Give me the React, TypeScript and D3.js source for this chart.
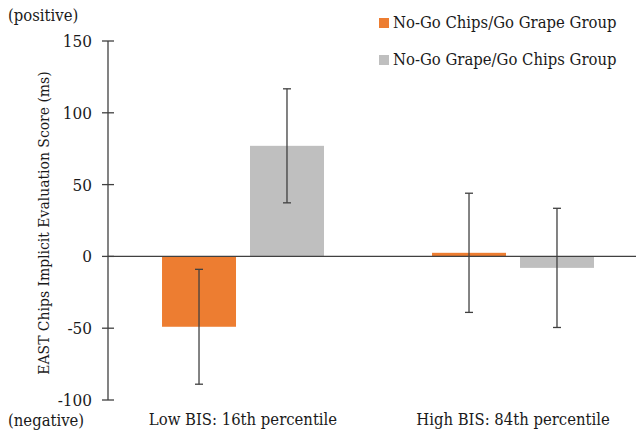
import React from 'react';
import * as d3 from 'd3';

const categories = ['Low BIS: 16th percentile', 'High BIS: 84th percentile'];
const groups = ['No-Go Chips/Go Grape Group', 'No-Go Grape/Go Chips Group'];
const chipsGrapeMeans = [-49, 2.5];
const chipsGrapeErrors = [40, 41.5];
const grapeChipsMeans = [77, -8];
const grapeChipsErrors = [39.7, 41.5];
const yTicks = [-100, -50, 0, 50, 100, 150];
const colors = ['#ED7D31', '#BFBFBF'];

const W = 638;
const H = 436;
const FONT = "'DejaVu Serif Condensed', 'DejaVu Serif', serif";
const txt = {fontFamily: FONT, fontStretch: 'condensed', fontSize: 16.5, fill: '#1a1a1a'};

export default function App() {
  const y = d3.scaleLinear().domain([-100, 150]).range([400, 41]);
  const x0 = d3.scaleBand().domain(categories).range([108, 648]);
  const x1 = d3.scaleBand().domain(groups).range([0, x0.bandwidth()])
    .paddingInner(0.159).paddingOuter(0.614);

  const series = [
    {name: groups[0], means: chipsGrapeMeans, errs: chipsGrapeErrors, color: colors[0]},
    {name: groups[1], means: grapeChipsMeans, errs: grapeChipsErrors, color: colors[1]},
  ];

  return (
    <svg width={W} height={H} style={{position: 'absolute', left: 0, top: 0, background: '#fff'}}>
      {/* bars */}
      {series.map(s => categories.map((c, i) => {
        const v = s.means[i];
        const bx = x0(c)! + x1(s.name)!;
        return (
          <rect key={s.name + c} x={bx} width={x1.bandwidth()}
            y={Math.min(y(v), y(0))} height={Math.abs(y(v) - y(0))} fill={s.color} />
        );
      }))}

      {/* zero line */}
      <line x1={108} x2={636} y1={y(0)} y2={y(0)} stroke="#404040" strokeWidth={1.2} />

      {/* axis */}
      <line x1={108} x2={108} y1={y(150)} y2={y(-100)} stroke="#404040" strokeWidth={1.3} />
      {yTicks.map(t => (
        <g key={t}>
          <line x1={102} x2={114} y1={y(t)} y2={y(t)} stroke="#404040" strokeWidth={1.3} />
          <text x={92} y={y(t)} dy="0.35em" textAnchor="end" style={{...txt, fontSize: 17}}>{t}</text>
        </g>
      ))}

      {/* error bars */}
      {series.map(s => categories.map((c, i) => {
        const cx = x0(c)! + x1(s.name)! + x1.bandwidth() / 2;
        const hi = y(s.means[i] + s.errs[i]);
        const lo = y(s.means[i] - s.errs[i]);
        return (
          <g key={'e' + s.name + c} stroke="#404040" strokeWidth={1.3}>
            <line x1={cx} x2={cx} y1={hi} y2={lo} />
            <line x1={cx - 4} x2={cx + 4} y1={hi} y2={hi} />
            <line x1={cx - 4} x2={cx + 4} y1={lo} y2={lo} />
          </g>
        );
      }))}

      {/* category labels */}
      {categories.map(c => (
        <text key={c} x={x0(c)! + x0.bandwidth() / 2} y={425} textAnchor="middle" style={txt}>{c}</text>
      ))}

      <text x={8} y={21} style={txt}>(positive)</text>
      <text x={8} y={426} style={txt}>(negative)</text>

      <text transform={`translate(49, 223) rotate(-90)`} textAnchor="middle" style={{...txt, fontSize: 15.5}}>
        EAST Chips Implicit Evaluation Score (ms)
      </text>

      {/* legend */}
      {groups.map((g, i) => (
        <g key={g} transform={`translate(379, ${18 + i * 37})`}>
          <rect x={0} y={0} width={10} height={10} fill={colors[i]} />
          <text x={14} y={10} style={txt}>{g}</text>
        </g>
      ))}
    </svg>
  );
}
